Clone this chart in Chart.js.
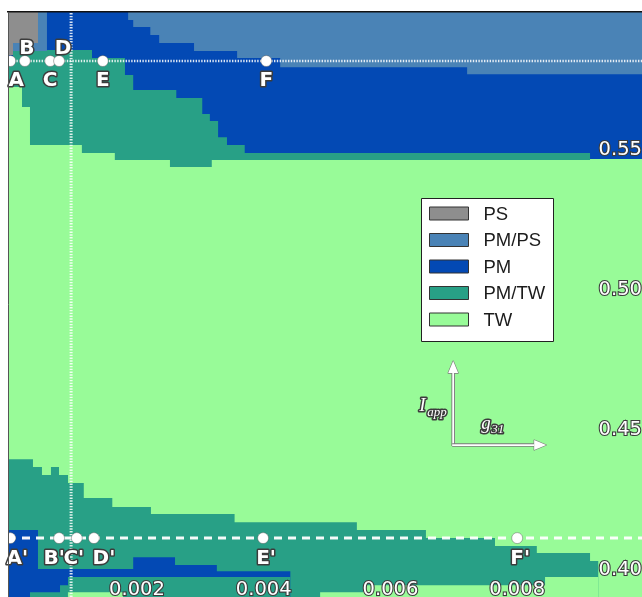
<!DOCTYPE html>
<html>
<head>
<meta charset="utf-8">
<script src="https://cdn.jsdelivr.net/npm/chart.js@4.4.1/dist/chart.umd.min.js"></script>
<style>
  html, body { margin: 0; padding: 0; background: #ffffff; }
  #wrap { width: 642px; height: 597px; }
</style>
</head>
<body>
<div id="wrap"><canvas id="phase" width="642" height="597"></canvas></div>
<script>
// ---- axis ranges and ticks ----
const gRange = [-0.000036, 0.00997];     // g31
const iRange = [0.3904, 0.5993];         // I_app
const gTicks = [0.002, 0.004, 0.006, 0.008];
const iTicks = [0.40, 0.45, 0.50, 0.55];

// ---- regimes ----
const regimes = ['PS', 'PM/PS', 'PM', 'PM/TW', 'TW'];
const regimeColors = ['#8e8e8e', '#4a83b6', '#0349b4', '#28a086', '#98fb98'];

// ---- upper part: each band reaches up to the top; arrays give its lower edge ----
// (step levels: a level holds from its g value up to the next one; 0.62 = band absent)
const upperPmTwG = [-0.00004, 0.000185, 0.000311, 0.00113, 0.00165, 0.00252, 0.00318, 0.00915, 0.0101];
const upperPmTwI = [0.5725, 0.5654, 0.5518, 0.5489, 0.5464, 0.5439, 0.5464, 0.5468, 0.5468];

const upperPmG = [-0.00004, 0.000043, 0.000437, 0.00129, 0.00181, 0.00194, 0.00262, 0.00303, 0.00315, 0.00328, 0.00342, 0.00370, 0.00915, 0.0101];
const upperPmI = [0.5804, 0.5854, 0.5857, 0.5829, 0.5768, 0.5714, 0.5686, 0.5629, 0.5604, 0.5546, 0.5518, 0.5489, 0.5468, 0.5468];

const upperPmPsG = [-0.00004, 0.000043, 0.000579, 0.00186, 0.00194, 0.00221, 0.00235, 0.00290, 0.00358, 0.00426, 0.00721, 0.0101];
const upperPmPsI = [0.5839, 0.5854, 0.62, 0.5964, 0.5939, 0.5911, 0.5882, 0.5854, 0.5829, 0.5796, 0.5771, 0.5771];

const upperPsG = [-0.00004, 0.000043, 0.000437, 0.0101];
const upperPsI = [0.5839, 0.5882, 0.62, 0.62];

// ---- lower part: each band reaches down to the bottom; arrays give its upper edge ----
// (0.37 = band absent)
const lowerPmTwG = [-0.00004, 0.000358, 0.000500, 0.000642, 0.000769, 0.000911, 0.00116, 0.00161, 0.00222, 0.00354, 0.00547, 0.00656, 0.00765, 0.00831, 0.00915, 0.00928, 0.0101];
const lowerPmTwI = [0.4396, 0.4368, 0.4339, 0.4368, 0.4339, 0.4311, 0.4257, 0.4225, 0.4200, 0.4171, 0.4143, 0.4114, 0.4086, 0.4061, 0.4032, 0.37, 0.37];

const lowerPmG = [-0.00004, 0.000437, 0.00194, 0.00260, 0.00326, 0.00442, 0.0101];
const lowerPmI = [0.4143, 0.4004, 0.4046, 0.4018, 0.3996, 0.37, 0.37];

const lowerPmTw2G = [-0.00004, 0.000311, 0.000785, 0.000911, 0.00442, 0.0101];
const lowerPmTw2I = [0.37, 0.3921, 0.3946, 0.3975, 0.37, 0.37];

const lowerTwG = [-0.00004, 0.00091, 0.00178, 0.00489, 0.00557, 0.00844, 0.00928, 0.0101];
const lowerTwI = [0.37, 0.3921, 0.37, 0.3921, 0.3946, 0.3975, 0.37, 0.37];

// ---- sample paths ----
const topRowI = 0.5818;
const bottomRowI = 0.4114;
const sweepG = 0.00096;
const topNames = ['A', 'B', 'C', 'D', 'E', 'F'];
const topG = [0, 0.00023, 0.00063, 0.00077, 0.00146, 0.00404];
const bottomNames = ["A'", "B'", "C'", "D'", "E'", "F'"];
const bottomG = [0, 0.00077, 0.00105, 0.00132, 0.00399, 0.00800];

// label placement around each marker (pixels: dx, baseline dy)
const topLabelOffsets = [[6, 25], [2, -7], [0, 25], [4, -7], [0, 25], [0, 25]];
const bottomLabelOffsets = [[7, 26], [-5, 26], [-3, 26], [10, 26], [3, 26], [3, 26]];

// direction arrows anchor (g31, I_app)
const arrowOrigin = { g: 0.00699, i: 0.44464 };

const steps = (gs, is) => gs.map((g, k) => ({ x: g, y: is[k] }));

function band(label, gs, is, color, fill, order) {
  return {
    label, data: steps(gs, is), stepped: 'before', fill,
    backgroundColor: color, borderColor: 'rgba(0,0,0,0)', borderWidth: 1,
    pointRadius: 0, pointHoverRadius: 0, order
  };
}

const [cPS, cPMPS, cPM, cPMTW, cTW] = regimeColors;

const datasets = [
  band('TW', [gRange[0], gRange[1]], [iRange[1], iRange[1]], cTW, 'start', 60),
  band('PM/TW', upperPmTwG, upperPmTwI, cPMTW, 'end', 50),
  band('PM', upperPmG, upperPmI, cPM, 'end', 49),
  band('PM/PS', upperPmPsG, upperPmPsI, cPMPS, 'end', 48),
  band('PS', upperPsG, upperPsI, cPS, 'end', 47),
  band('PM/TW', lowerPmTwG, lowerPmTwI, cPMTW, 'start', 50),
  band('PM', lowerPmG, lowerPmI, cPM, 'start', 49),
  band('PM/TW', lowerPmTw2G, lowerPmTw2I, cPMTW, 'start', 48),
  band('TW', lowerTwG, lowerTwI, cTW, 'start', 47),
  {
    label: 'row-top', data: [{ x: gRange[0], y: topRowI }, { x: gRange[1], y: topRowI }],
    borderColor: 'rgba(255,255,255,0.85)', borderWidth: 2.5, borderDash: [1.4, 1.4],
    pointRadius: 0, fill: false, order: 10
  },
  {
    label: 'row-bottom', data: [{ x: gRange[0], y: bottomRowI }, { x: gRange[1], y: bottomRowI }],
    borderColor: 'rgba(255,255,255,0.95)', borderWidth: 3, borderDash: [8, 6],
    pointRadius: 0, fill: false, order: 10
  },
  {
    label: 'sweep', data: [{ x: sweepG, y: iRange[0] }, { x: sweepG, y: iRange[1] }],
    borderColor: 'rgba(255,255,255,0.85)', borderWidth: 3, borderDash: [1.4, 1.4],
    pointRadius: 0, fill: false, order: 10
  },
  {
    label: 'markers',
    data: topG.map(g => ({ x: g, y: topRowI })).concat(bottomG.map(g => ({ x: g, y: bottomRowI }))),
    showLine: false, pointRadius: 5.5, pointBackgroundColor: '#ffffff',
    pointBorderColor: 'rgba(70,70,70,0.5)', pointBorderWidth: 0.8, clip: 0, order: 1
  }
];

function outlined(ctx, text, x, y, font, align) {
  ctx.font = font;
  ctx.textAlign = align || 'center';
  ctx.textBaseline = 'alphabetic';
  ctx.lineJoin = 'round';
  ctx.lineWidth = 3;
  ctx.strokeStyle = '#3c3c3c';
  ctx.strokeText(text, x, y);
  ctx.fillStyle = '#ffffff';
  ctx.fillText(text, x, y);
}

function outlinedArrow(ctx, x0, y0, x1, y1) {
  const ang = Math.atan2(y1 - y0, x1 - x0);
  const head = 12, half = 5;
  const bx = x1 - head * Math.cos(ang), by = y1 - head * Math.sin(ang);
  const px = -Math.sin(ang) * half, py = Math.cos(ang) * half;
  const shaft = () => { ctx.beginPath(); ctx.moveTo(x0, y0); ctx.lineTo(bx, by); };
  const tip = () => {
    ctx.beginPath(); ctx.moveTo(x1, y1); ctx.lineTo(bx + px, by + py);
    ctx.lineTo(bx - px, by - py); ctx.closePath();
  };
  ctx.lineCap = 'butt';
  ctx.strokeStyle = '#7a7a7a'; ctx.lineWidth = 3.6; shaft(); ctx.stroke();
  tip(); ctx.lineWidth = 1.2; ctx.stroke();
  ctx.strokeStyle = '#ffffff'; ctx.lineWidth = 1.8; shaft(); ctx.stroke();
  tip(); ctx.fillStyle = '#ffffff'; ctx.fill();
}

const annotations = {
  id: 'phaseAnnotations',
  afterDatasetsDraw(chart) {
    const { ctx, chartArea: a, scales: { x, y } } = chart;
    ctx.save();

    // marker names
    const bold = 'bold 20px "DejaVu Sans", sans-serif';
    topNames.forEach((n, k) => {
      const px = x.getPixelForValue(topG[k]), py = y.getPixelForValue(topRowI);
      outlined(ctx, n, px + topLabelOffsets[k][0], py + topLabelOffsets[k][1], bold);
    });
    bottomNames.forEach((n, k) => {
      const px = x.getPixelForValue(bottomG[k]), py = y.getPixelForValue(bottomRowI);
      outlined(ctx, n, px + bottomLabelOffsets[k][0], py + bottomLabelOffsets[k][1], bold);
    });

    // direction arrows
    const ox = x.getPixelForValue(arrowOrigin.g), oy = y.getPixelForValue(arrowOrigin.i);
    outlinedArrow(ctx, ox, oy + 1, ox, oy - 84);
    outlinedArrow(ctx, ox - 1, oy, ox + 93, oy);
    const mathBig = 'italic 19px "Liberation Serif", serif';
    const mathSmall = 'italic 13px "Liberation Serif", serif';
    outlined(ctx, 'I', ox - 34, oy - 34, mathBig, 'left');
    outlined(ctx, 'app', ox - 26, oy - 29, mathSmall, 'left');
    outlined(ctx, 'g', ox + 28, oy - 16, mathBig, 'left');
    outlined(ctx, '31', ox + 38, oy - 12, mathSmall, 'left');

    // legend box
    const lx = a.left + 413.5, ly = a.top + 186.5, lw = 132, lh = 143;
    ctx.fillStyle = '#ffffff';
    ctx.fillRect(lx, ly, lw, lh);
    ctx.strokeStyle = '#222222'; ctx.lineWidth = 1;
    ctx.strokeRect(lx, ly, lw, lh);
    ctx.font = '18.5px "Liberation Sans", Arial, sans-serif';
    ctx.textAlign = 'left'; ctx.textBaseline = 'middle';
    regimes.forEach((name, k) => {
      const ry = ly + 15 + k * 26.5;
      ctx.fillStyle = regimeColors[k];
      ctx.fillRect(lx + 8, ry - 6.5, 39, 13);
      ctx.strokeStyle = '#333333'; ctx.lineWidth = 1;
      ctx.strokeRect(lx + 8, ry - 6.5, 39, 13);
      ctx.fillStyle = '#1c1c1c';
      ctx.fillText(name, lx + 62, ry + 1);
    });
    ctx.restore();
  }
};

const tickFont = { family: '"DejaVu Sans", sans-serif', size: 19.5 };

new Chart(document.getElementById('phase'), {
  type: 'line',
  data: { datasets },
  plugins: [annotations],
  options: {
    responsive: false,
    animation: false,
    events: [],
    layout: { autoPadding: false, padding: { left: 8, top: 12, right: 0, bottom: 0 } },
    plugins: { legend: { display: false }, tooltip: { enabled: false } },
    scales: {
      x: {
        type: 'linear', position: 'bottom', min: gRange[0], max: gRange[1],
        grid: { display: false, drawTicks: false },
        border: { display: false },
        afterBuildTicks: s => { s.ticks = gTicks.map(v => ({ value: v })); },
        ticks: {
          z: 1, mirror: true, padding: 0, autoSkip: false, maxRotation: 0,
          color: '#ffffff', textStrokeColor: '#3c3c3c', textStrokeWidth: 2.2,
          font: Object.assign({}, tickFont, { lineHeight: '14px' }),
          callback: v => v.toFixed(3)
        }
      },
      y: {
        type: 'linear', position: 'right', min: iRange[0], max: iRange[1],
        grid: { display: false, drawTicks: false },
        border: { display: false },
        afterBuildTicks: s => { s.ticks = iTicks.map(v => ({ value: v })); },
        ticks: {
          z: 1, mirror: true, padding: 0, autoSkip: false,
          color: '#ffffff', textStrokeColor: '#3c3c3c', textStrokeWidth: 2.2,
          font: Object.assign({}, tickFont, { lineHeight: 0.01 }),
          callback: v => v.toFixed(2)
        }
      },
      frameTop: {
        type: 'linear', position: 'top', axis: 'x', display: true,
        grid: { display: false, drawTicks: false },
        ticks: { display: false },
        border: { display: true, color: '#111111', width: 1.5, z: 2 }
      },
      frameLeft: {
        type: 'linear', position: 'left', axis: 'y', display: true,
        grid: { display: false, drawTicks: false },
        ticks: { display: false },
        border: { display: true, color: '#555555', width: 1, z: 2 }
      }
    }
  }
});
</script>
</body>
</html>
